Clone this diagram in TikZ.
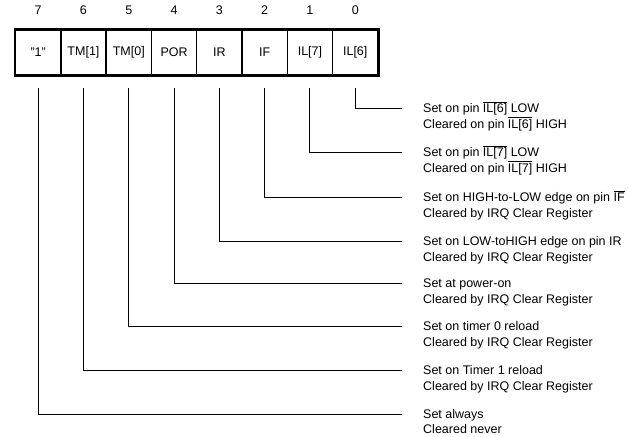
\documentclass[tikz,border=0pt]{standalone}
\usepackage{fontspec}
\setmainfont{Liberation Sans}
\usetikzlibrary{positioning}
\newcommand{\ovl}[1]{$\overline{\mbox{#1}}$}
\begin{document}
\begin{tikzpicture}[x=1pt, y=-1pt, font=\fontsize{12.5}{15}\selectfont,
    regbox/.style={draw, line width=1.5pt, minimum width=45.3pt, minimum height=45pt, inner sep=0pt},
    bitnum/.style={inner sep=0pt},
    textline/.style={anchor=west, inner sep=0pt, text height=9pt, text depth=0pt},
    wire/.style={line width=1pt}]
    % Rahmen der Abbildung
    \useasboundingbox (0,0) rectangle (628,436);

    % 1. Registerfelder mit Bitnummern
    \foreach \i/\lab in {7/{"1"}, 6/{TM[1]}, 5/{TM[0]}, 4/{POR}, 3/{IR}, 2/{IF}, 1/{IL[7]}, 0/{IL[6]}} {
        \node[regbox] (b\i) at ({15.5+22.65+45.3*(7-\i)}, 52.5) {\lab};
        \node[bitnum] (n\i) at ({15.5+22.65+45.3*(7-\i)}, 10) {\i};
    }
    % Aussenrahmen etwas kraeftiger
    \draw[line width=2pt] (b7.north west) rectangle (b0.south east);

    % 2. Beschreibungen rechts
    \node[textline] (t0) at (423, 108) {Set on pin \ovl{IL[6]} LOW};
    \node[textline] (u0) at (423, 123.5) {Cleared on pin \ovl{IL[6]} HIGH};
    \node[textline] (t1) at (423, 152) {Set on pin \ovl{IL[7]} LOW};
    \node[textline] (u1) at (423, 167.5) {Cleared on pin \ovl{IL[7]} HIGH};
    \node[textline] (t2) at (423, 197) {Set on HIGH-to-LOW edge on pin \ovl{IF}};
    \node[textline] (u2) at (423, 212.5) {Cleared by IRQ Clear Register};
    \node[textline] (t3) at (423, 241) {Set on LOW-toHIGH edge on pin IR};
    \node[textline] (u3) at (423, 256.5) {Cleared by IRQ Clear Register};
    \node[textline] (t4) at (423, 283) {Set at power-on};
    \node[textline] (u4) at (423, 298.5) {Cleared by IRQ Clear Register};
    \node[textline] (t5) at (423, 326) {Set on timer 0 reload};
    \node[textline] (u5) at (423, 341.5) {Cleared by IRQ Clear Register};
    \node[textline] (t6) at (423, 370) {Set on Timer 1 reload};
    \node[textline] (u6) at (423, 385.5) {Cleared by IRQ Clear Register};
    \node[textline] (t7) at (423, 414) {Set always};
    \node[textline] (u7) at (423, 429) {Cleared never};

    % 3. Verbindungen Bit -> Beschreibung
    \foreach \i in {0,...,7} {
        \draw[wire] ([yshift=-12pt]b\i.south) |- ([xshift=-21pt]t\i.west);
    }
\end{tikzpicture}
\end{document}
